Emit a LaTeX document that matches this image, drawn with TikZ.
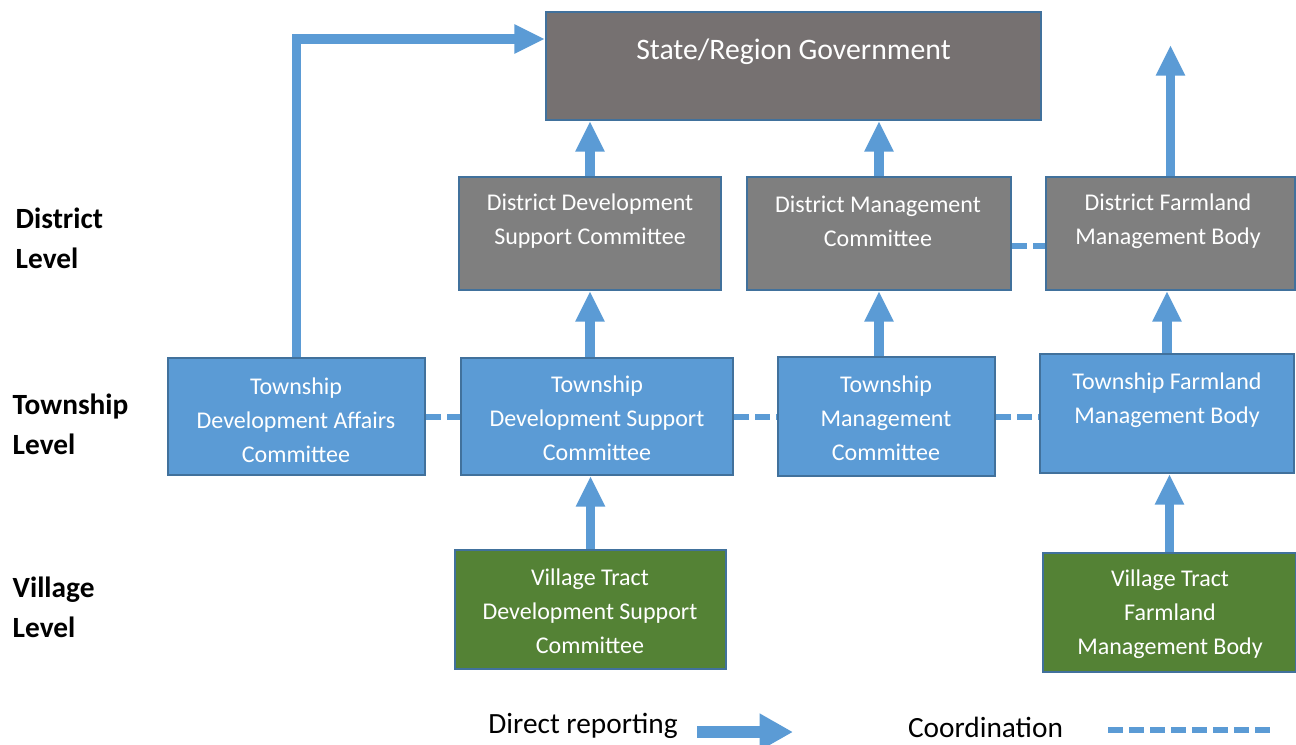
\documentclass[tikz,border=0pt]{standalone}
\usepackage{fontspec}
\setmainfont{Carlito}
\usetikzlibrary{arrows.meta,positioning}

\definecolor{stategray}{HTML}{767171}
\definecolor{distgray}{HTML}{7F7F7F}
\definecolor{townblue}{HTML}{5B9BD5}
\definecolor{villgreen}{HTML}{548235}
\definecolor{boxedge}{HTML}{41719C}
\tikzset{boxsize/.style 2 args={minimum width=#1*0.75pt,minimum height=#2*0.75pt}}

\begin{document}
\begin{tikzpicture}[x=0.75pt,y=-0.75pt]
			\tikzset{box/.style={draw=boxedge,line width=1.5pt,inner sep=0pt}}
			\tikzset{boxtext/.style={text=white,align=center,font=\fontsize{18}{25.5}\selectfont}}
			\tikzset{leveltext/.style={anchor=west,align=left,font=\fontsize{22}{30}\selectfont\bfseries}}
			\tikzset{legendtext/.style={inner sep=0pt,font=\fontsize{22}{26}\selectfont}}
			\tikzset{report/.style={draw=townblue,line width=7pt,-{Triangle[width=20.5pt,length=23pt]}}}
			\tikzset{coord/.style={draw=townblue,line width=4.5pt,dash pattern=on 11.25pt off 4.5pt}}
			\useasboundingbox (0,0) rectangle (1296,744);
			% boxes
			\node[box,fill=stategray,boxsize={495}{108}] (state) at (793.5,66) {};
			\node[box,fill=distgray,boxsize={262}{113}] (ddsc) at (590,233.5) {};
			\node[box,fill=distgray,boxsize={264}{113}] (dmc) at (879,233.5) {};
			\node[box,fill=distgray,boxsize={249}{113}] (dfmb) at (1170.5,233.5) {};
			\node[box,fill=townblue,boxsize={257}{117}] (tdac) at (296.5,416.5) {};
			\node[box,fill=townblue,boxsize={272}{117}] (tdsc) at (597,416.5) {};
			\node[box,fill=townblue,boxsize={217}{119}] (tmc) at (886.5,416.5) {};
			\node[box,fill=townblue,boxsize={254}{119}] (tfmb) at (1167,413.5) {};
			\node[box,fill=villgreen,boxsize={271}{119}] (vtdsc) at (590.5,609.5) {};
			\node[box,fill=villgreen,boxsize={253}{119}] (vtfmb) at (1169.5,612.5) {};
			% texts
			\node[boxtext,font=\fontsize{22.3}{28}\selectfont] (state-t) at (793.5,52) {State/Region Government};
			\node[boxtext] (ddsc-t) at (590,221) {District Development\\Support Committee};
			\node[boxtext] (dmc-t) at (878,221) {District Management\\Committee};
			\node[boxtext] (dfmb-t) at (1168,221) {District Farmland\\Management Body};
			\node[boxtext] (tdac-t) at (296,420) {Township\\Development Affairs\\Committee};
			\node[boxtext] (tdsc-t) at (597,418) {Township\\Development Support\\Committee};
			\node[boxtext] (tmc-t) at (886,418) {Township\\Management\\Committee};
			\node[boxtext] (tfmb-t) at (1167,400) {Township Farmland\\Management Body};
			\node[boxtext] (vtdsc-t) at (590,611) {Village Tract\\Development Support\\Committee};
			\node[boxtext] (vtfmb-t) at (1170,614) {Village Tract\\Farmland\\Management Body};
			\node[leveltext] (district) at (11,238.5) {District\\Level};
			\node[leveltext] (township) at (8,424) {Township\\Level};
			\node[leveltext] (village) at (8,607.5) {Village\\Level};
			% reporting
			\draw[report] (tdac.north) |- ([yshift=-21pt]state.north west);
			\draw[report] (ddsc.north) -- (ddsc.north |- state.south);
			\draw[report] (dmc.north) -- (dmc.north |- state.south);
			\coordinate (dfmb-up) at (1170.5,45);
			\draw[report] (dfmb.north) -- (dfmb-up);
			\draw[report] (tdsc.north -| ddsc) -- (ddsc.south);
			\draw[report] (tmc.north -| dmc) -- (dmc.south);
			\draw[report] (tfmb.north) -- (tfmb.north |- dfmb.south);
			\draw[report] (vtdsc.north) -- (vtdsc.north |- tdsc.south);
			\draw[report] (vtfmb.north) -- (vtfmb.north |- tfmb.south);
			% coordination
			\draw[coord] (tdac.east) -- (tdsc.west);
			\draw[coord] (tdsc.east) -- (tmc.west);
			\draw[coord] (tmc.east) -- (tmc.east -| tfmb.west);
			\draw[coord] ([yshift=-9pt]dmc.east) -- ([yshift=-9pt]dmc.east -| dfmb.west);
			% legend
			\node[legendtext] (direct) at (583,726) {Direct reporting};
			\coordinate (report-a) at (697,732);
			\coordinate (report-b) at (793,732);
			\draw[draw=townblue,line width=9pt,-{Triangle[width=26pt,length=25pt]}] (report-a) -- (report-b);
			\node[legendtext] (coordination) at (985.5,727) {Coordination};
			\coordinate (coord-a) at (1108,730);
			\coordinate (coord-b) at (1270,730);
			\draw[coord] (coord-a) -- (coord-b);
		\end{tikzpicture}
\end{document}
